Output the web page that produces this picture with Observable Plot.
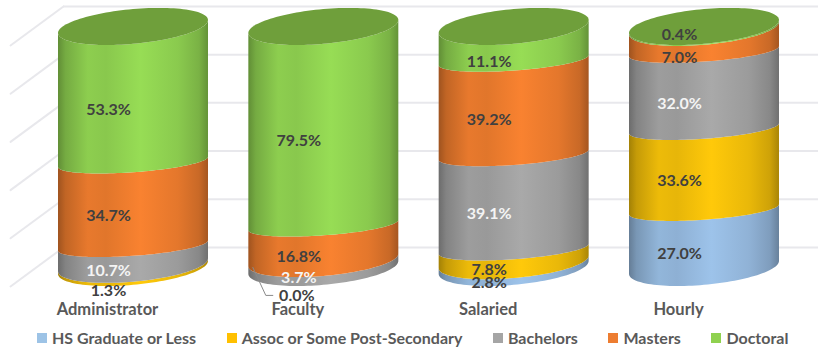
<!DOCTYPE html>
<html>
<head>
<meta charset="utf-8">
<script src="https://cdn.jsdelivr.net/npm/d3@7"></script>
<script src="https://cdn.jsdelivr.net/npm/@observablehq/plot@0.6"></script>
<style>
  html, body { margin: 0; padding: 0; background: #fff; }
  #chart svg { display: block; }
  #legend { display: flex; column-gap: 30.5px; padding: 2px 0 0 37px; height: 30px; box-sizing: border-box;
    font: bold 16px Lato, sans-serif; color: #595959; white-space: nowrap; }
  #legend span.item { display: flex; align-items: center; column-gap: 5px; line-height: 20px; }
  #legend i { display: block; width: 10px; height: 10px; }
</style>
</head>
<body>
<div id="chart"></div>
<div id="legend"></div>
<script>
// Highest education level by employee group, share of each group (%)
const groups = ["Administrator", "Faculty", "Salaried", "Hourly"];
const levels = ["HS Graduate or Less", "Assoc or Some Post-Secondary", "Bachelors", "Masters", "Doctoral"];
const hsGraduate = [0, 0.0, 2.8, 27.0];
const assoc = [1.3, 0, 7.8, 33.6];
const bachelors = [10.7, 3.7, 39.1, 32.0];
const masters = [34.7, 16.8, 39.2, 7.0];
const doctoral = [53.3, 79.5, 11.1, 0.4];
const gridValues = [0, 20, 40, 60, 80, 100];
const bandColors = ["#9dc3ea", "#ffc90a", "#a9a9a9", "#f98230", "#97dd55"];
const swatchColors = ["#9dc3e6", "#ffc000", "#a5a5a5", "#ed7d31", "#8fd14f"];
const lightText = ["Bachelors"];

// Cylinder shape, in scale units: x in group spacings, y in percentage points.
// Rims are deep at the two ends of a cylinder and flatter along its body.
const radius = 0.394;
const rimReach = d3.scaleLinear().domain([0, 4, 10, 96, 100]).range([7.7, 7, 4.8, 4.8, 7.7]).clamp(true);
const rimTilt = d3.scaleLinear().domain([0, 4, 10, 96, 100]).range([2.7, 2.6, 2.15, 2.15, 2.7]).clamp(true);
const wallOffset = 16.2;
const wallLeft = -0.368;
const wallRight = 3.6;
const floorLeft = -0.646;

const series = [hsGraduate, assoc, bachelors, masters, doctoral];
const bands = groups.flatMap((group, g) => {
  let base = 0;
  return series.map((values, l) => {
    const value = values[g];
    const band = {group, g, level: levels[l], l, value, y0: base, y1: base + value};
    base += value;
    return band;
  });
});

// A rim point at angle t; the lowest point of the front of a rim sits at its value
const rimY = (v, t) => {
  const h = rimReach(v);
  const c = rimTilt(v);
  const b = Math.sqrt(h * h - c * c);
  return v + h - b * Math.sin(t) + c * Math.cos(t);
};

// Front half of the rim, left to right
const angles = d3.range(0, 61).map(i => Math.PI - (i / 60) * Math.PI);
const bandArea = b => angles.map(t => ({
  x: b.g + radius * Math.cos(t),
  y1: rimY(b.y0, t),
  y2: rimY(b.y1, t)
}));
const lidArea = g => angles.map(t => ({
  x: g + radius * Math.cos(t),
  y1: rimY(100, t),
  y2: rimY(100, -t)
}));

// Small labels that would collide are shifted, in percentage points
const labelShift = new Map([
  ["Administrator|Assoc or Some Post-Secondary", -2.4],
  ["Faculty|Bachelors", 1.8],
  ["Salaried|Doctoral", -1.2],
  ["Hourly|Doctoral", 4.6],
  ["Hourly|Masters", -1.2],
  ["Hourly|Bachelors", -0.8]
]);
const isFacultyZero = b => b.g === 1 && b.l === 0;
const inlineLabels = bands.filter(b => b.value > 0);
const facultyZero = bands.filter(isFacultyZero);
const facultyZeroY = -3.7;
const leader = [
  {x: 1 - 0.373, y: 7.9},
  {x: 1 - 0.305, y: facultyZeroY},
  {x: 1 - 0.268, y: facultyZeroY}
];

// Horizontal shading shared by every band of a colour
const shadeStops = [[0, 1.25], [0.05, 0.72], [0.2, 0.2], [0.32, 0.28], [0.55, 0], [0.8, 0.25], [0.94, 0.6], [1, 1.15]];
const gradientDefs = () => {
  const defs = d3.create("svg:defs");
  bandColors.forEach((color, l) => {
    const gradient = defs.append("linearGradient").attr("id", `shade-${l}`);
    shadeStops.forEach(([offset, dark]) => {
      gradient.append("stop").attr("offset", offset).attr("stop-color", d3.rgb(color).darker(dark).formatHex());
    });
  });
  return defs.node();
};

const font = "Lato, sans-serif";
const wallColor = "#e8e8ec";
const chart = Plot.plot({
  width: 818,
  height: 322,
  margin: 0,
  marginBottom: 22,
  x: {type: "linear", domain: [0, 3], range: [133, 704]},
  y: {type: "linear", domain: [0, 100], range: [286, 45], axis: null},
  marks: [
    gradientDefs,
    // Back wall and side wall of the plot box
    Plot.ruleY(gridValues, {
      y: d => d + wallOffset,
      x1: wallLeft, x2: wallRight,
      stroke: wallColor, strokeWidth: 2
    }),
    ...gridValues.map(v => Plot.line(
      [{x: floorLeft, y: v}, {x: wallLeft, y: v + wallOffset}],
      {x: "x", y: "y", stroke: wallColor, strokeWidth: 2}
    )),
    ...bands.filter(b => b.value > 0).map(b => Plot.areaY(bandArea(b), {
      x: "x", y1: "y1", y2: "y2", fill: `url(#shade-${b.l})`
    })),
    ...groups.map((_, g) => Plot.areaY(lidArea(g), {
      x: "x", y1: "y1", y2: "y2", fill: "#6f9f3b"
    })),
    Plot.line(leader, {x: "x", y: "y", stroke: "#8a8a8a", strokeWidth: 1}),
    Plot.text(inlineLabels, {
      x: d => d.g,
      y: d => (d.y0 + d.y1) / 2 + (labelShift.get(`${d.group}|${d.level}`) || 0),
      dx: -25,
      text: d => d.value.toFixed(1) + "%",
      fontFamily: font, fontSize: 16, fontWeight: "bold",
      fill: d => lightText.includes(d.level) ? "#f4f4f4" : "#404040"
    }),
    Plot.text(facultyZero, {
      x: d => d.g,
      y: facultyZeroY,
      dx: -27,
      text: d => d.value.toFixed(1) + "%",
      fontFamily: font, fontSize: 16, fontWeight: "bold", fill: "#404040"
    }),
    Plot.axisX({
      ticks: [0, 1, 2, 3],
      tickFormat: i => groups[i],
      tickSize: 0,
      tickPadding: 3,
      dx: -26,
      label: null,
      fontFamily: font,
      fontSize: 16.5,
      fontWeight: "bold",
      color: "#595959",
      fill: "#595959"
    })
  ]
});
document.getElementById("chart").append(chart);

const legend = d3.select("#legend");
levels.forEach((level, l) => {
  const item = legend.append("span").attr("class", "item");
  item.append("i").style("background", swatchColors[l]);
  item.append("span").text(level);
});
</script>
</body>
</html>
